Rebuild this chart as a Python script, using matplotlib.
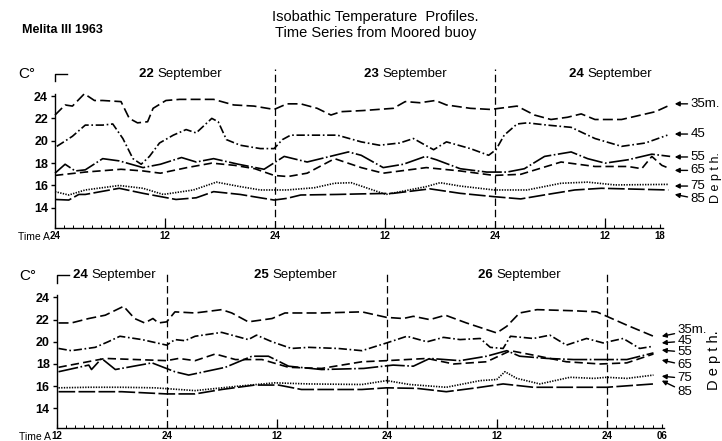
import matplotlib
matplotlib.use("Agg")
import matplotlib.pyplot as plt

plt.rcParams['font.family'] = ['Liberation Sans Narrow', 'Liberation Sans', 'DejaVu Sans']

# ---------------- data: top panel (hours from 00h 22 Sep) ----------------
top_h_35 = [0, 1.1, 1.9, 3.2, 4.3, 5.2, 7.2, 8.1, 9.0, 10.1, 10.7, 12.1, 13.6, 17.3, 19.5, 21.7, 23.9, 25.3, 26.8, 28.6, 30.1, 31.2, 33.6, 36.9, 38.2, 39.8, 41.5, 42.7, 45.3, 47.5, 50.4, 52.3, 54.1, 55.9, 57.4, 58.9, 61.8, 65.5, 67.1]
top_t_35 = [22.3, 23.2, 23.1, 24.2, 23.6, 23.6, 23.5, 22.0, 21.6, 21.7, 22.9, 23.6, 23.7, 23.7, 23.2, 23.1, 22.8, 23.3, 23.3, 22.9, 22.3, 22.6, 22.7, 22.9, 23.5, 23.4, 23.6, 23.2, 22.9, 22.8, 23.1, 22.3, 21.9, 22.1, 22.4, 21.9, 21.9, 22.6, 23.2]
top_h_45 = [0.2, 1.9, 3.3, 5.2, 6.3, 7.4, 8.5, 9.4, 10.3, 11.4, 12.9, 14.3, 15.4, 17.1, 17.8, 18.7, 20.2, 22.4, 23.9, 24.8, 25.7, 27.9, 30.8, 33.4, 35.4, 37.6, 39.1, 40.4, 41.3, 42.7, 45.3, 47.3, 48.1, 49.0, 50.4, 51.5, 53.7, 56.3, 58.9, 61.8, 64.4, 66.8]
top_t_45 = [19.5, 20.4, 21.4, 21.4, 21.5, 20.2, 18.4, 17.9, 18.6, 19.8, 20.5, 21.0, 20.7, 22.0, 21.7, 20.1, 19.6, 19.3, 19.3, 20.1, 20.5, 20.5, 20.5, 19.9, 19.6, 19.8, 20.2, 19.6, 19.2, 19.9, 19.3, 18.7, 19.2, 20.5, 21.5, 21.6, 21.4, 21.2, 20.2, 19.5, 19.8, 20.5]
top_h_55 = [0, 1.1, 2.2, 3.3, 5.2, 7.0, 9.6, 11.5, 13.8, 15.4, 17.3, 20.0, 22.8, 25.0, 27.5, 30.0, 32.0, 33.4, 35.8, 38.0, 40.4, 41.6, 44.2, 47.1, 49.3, 51.2, 53.4, 56.3, 58.1, 60.0, 62.5, 65.1, 67.1]
top_t_55 = [17.1, 17.9, 17.3, 17.4, 18.4, 18.2, 17.6, 17.9, 18.5, 18.1, 18.4, 17.9, 17.45, 18.6, 18.1, 18.6, 19.0, 18.7, 17.6, 17.9, 18.6, 18.3, 17.5, 17.2, 17.2, 17.5, 18.6, 19.0, 18.4, 18.0, 18.3, 18.8, 18.6]
top_h_65 = [0, 3.3, 7.2, 9.6, 11.5, 14.4, 17.1, 19.6, 21.8, 23.9, 25.4, 27.5, 30.5, 33.4, 35.8, 40.5, 44.2, 47.9, 50.8, 55.2, 58.9, 62.5, 64.0, 65.1, 66.2, 67.1]
top_t_65 = [16.9, 17.2, 17.45, 17.3, 17.1, 17.6, 18.0, 17.8, 17.5, 16.9, 16.8, 17.1, 18.4, 17.6, 17.1, 17.6, 17.3, 16.9, 17.0, 18.1, 17.7, 17.7, 17.5, 18.6, 17.8, 17.5]
top_h_75 = [0, 1.5, 3.3, 7.0, 9.6, 11.8, 15.1, 17.6, 20.2, 22.4, 25.3, 28.3, 30.5, 32.3, 33.4, 36.1, 40.5, 42.0, 44.2, 47.9, 51.5, 55.2, 58.1, 61.1, 66.9]
top_t_75 = [15.45, 15.15, 15.6, 16.0, 15.75, 15.2, 15.6, 16.3, 15.9, 15.6, 15.6, 15.8, 16.2, 16.25, 15.95, 15.2, 15.9, 16.25, 15.95, 15.6, 15.6, 16.2, 16.3, 16.05, 16.1]
top_h_85 = [0, 1.5, 2.6, 3.3, 7.0, 9.6, 13.2, 15.4, 17.3, 20.2, 22.4, 23.9, 25.3, 26.8, 30.8, 33.4, 36.9, 40.9, 44.2, 47.9, 50.8, 53.7, 56.7, 59.6, 66.9]
top_t_85 = [14.75, 14.7, 15.2, 15.2, 15.75, 15.3, 14.75, 14.9, 15.45, 15.2, 14.9, 14.7, 14.85, 15.15, 15.2, 15.25, 15.3, 15.7, 15.3, 15.0, 14.8, 15.2, 15.6, 15.75, 15.6]

# ---------------- data: bottom panel (hours from 12h 24 Sep) ----------------
bot_h_35 = [0.2, 1.6, 3.5, 5.3, 7.3, 8.5, 9.6, 10.5, 11.1, 12.0, 12.9, 15.1, 18.0, 19.1, 20.9, 23.5, 24.9, 28.9, 33.3, 36.0, 37.8, 38.9, 40.7, 42.4, 44.7, 48.0, 49.1, 50.5, 52.4, 56.4, 58.9, 60.0, 62.2, 65.1]
bot_t_35 = [21.7, 21.7, 22.1, 22.4, 23.2, 22.1, 21.7, 22.1, 21.7, 21.8, 22.7, 22.6, 22.9, 22.6, 21.8, 22.1, 22.6, 22.6, 22.7, 22.2, 22.1, 22.3, 22.0, 22.4, 21.7, 20.8, 21.4, 22.6, 22.9, 22.8, 22.7, 22.3, 21.5, 20.5]
bot_h_45 = [0.2, 1.6, 4.2, 5.6, 6.9, 9.3, 12.0, 12.9, 14.0, 15.1, 18.0, 20.9, 21.8, 23.5, 25.6, 27.5, 30.7, 33.3, 36.0, 38.2, 40.4, 42.2, 44.0, 46.2, 47.3, 48.7, 49.5, 52.0, 53.8, 55.6, 57.8, 59.6, 61.8, 63.6, 65.1]
bot_t_45 = [19.4, 19.2, 19.5, 20.0, 20.5, 20.2, 19.7, 20.2, 20.1, 20.5, 20.85, 20.2, 20.6, 20.0, 19.4, 19.5, 19.4, 19.2, 19.9, 20.5, 20.0, 20.4, 20.2, 20.3, 19.5, 19.4, 20.5, 20.3, 20.6, 19.7, 20.3, 19.9, 20.3, 19.4, 19.6]
bot_h_55 = [0.2, 3.5, 3.8, 4.9, 6.4, 10.4, 12.9, 14.4, 18.4, 21.3, 23.1, 25.3, 28.9, 33.5, 36.7, 38.9, 40.7, 44.0, 46.9, 49.1, 50.5, 53.5, 56.4, 60.4, 62.2, 65.1]
bot_t_55 = [17.3, 17.9, 17.5, 18.5, 17.5, 18.1, 17.3, 17.0, 17.7, 18.7, 18.7, 17.8, 17.5, 17.6, 17.9, 17.8, 18.5, 18.3, 18.7, 19.2, 18.7, 18.5, 18.4, 18.4, 18.4, 19.0]
bot_h_65 = [0.2, 5.3, 12.0, 13.3, 15.1, 17.3, 19.5, 22.4, 25.3, 28.9, 33.3, 36.0, 40.4, 43.3, 46.9, 49.5, 52.0, 55.6, 59.3, 62.2, 65.1]
bot_t_65 = [17.7, 18.5, 18.3, 18.5, 18.3, 18.9, 18.4, 18.4, 17.7, 17.6, 18.2, 18.3, 18.5, 18.0, 18.2, 19.2, 18.8, 18.2, 18.0, 18.1, 18.9]
bot_h_75 = [0.2, 3.5, 7.1, 10.7, 15.1, 19.8, 23.8, 27.5, 33.3, 36.0, 38.5, 42.5, 46.2, 48.0, 48.9, 50.2, 52.7, 56.0, 58.6, 60.0, 62.2, 65.1]
bot_t_75 = [15.85, 15.9, 15.9, 15.85, 15.6, 16.0, 16.3, 16.2, 16.15, 16.5, 16.15, 15.9, 16.5, 16.6, 17.3, 16.7, 16.2, 16.8, 16.7, 16.8, 16.7, 17.0]
bot_h_85 = [0.2, 3.5, 7.1, 12.0, 15.1, 18.0, 21.6, 24.2, 26.7, 30.7, 33.3, 36.0, 39.3, 42.5, 45.8, 48.7, 52.0, 56.4, 60.0, 65.1]
bot_t_85 = [15.5, 15.5, 15.5, 15.3, 15.3, 15.7, 16.1, 16.1, 15.7, 15.7, 15.7, 15.85, 15.8, 15.5, 15.85, 16.2, 15.9, 15.9, 15.9, 16.2]

depth_labels = ["35m.", "45", "55", "65", "75", "85"]
y_ticks = [14, 16, 18, 20, 22, 24]
top_xtick_pos = [0, 12, 24, 36, 48, 60, 66]
top_xtick_lab = ["24", "12", "24", "12", "24", "12", "18"]
bot_xtick_pos = [0, 12, 24, 36, 48, 60, 66]
bot_xtick_lab = ["12", "24", "12", "24", "12", "24", "06"]
top_days = ["22 September", "23 September", "24 September"]
bot_days = ["24 September", "25 September", "26 September"]

styles = [
    dict(dashes=(6, 2.5)),
    dict(dashes=(5, 1.6, 1, 1.6)),
    dict(dashes=(12, 1.5, 1, 1.5)),
    dict(dashes=(5, 2.5)),
    dict(dashes=(0.8, 0.8)),
    dict(dashes=(10, 2)),
]

SANS = ['Liberation Sans', 'DejaVu Sans']
fig = plt.figure(figsize=(7.22, 4.41), dpi=100)
YMIN, YMAX = 12.2, 26.0

def setup_axes(ax, xpos, xlab, midnight, noon, days, day_x):
    ax.set_xlim(0, 68)
    ax.set_ylim(YMIN, YMAX)
    for s in ["top", "right"]:
        ax.spines[s].set_visible(False)
    ax.spines["left"].set_bounds(YMIN, 24.2)
    ax.spines["bottom"].set_bounds(0, 66.3)
    for s in ["left", "bottom"]:
        ax.spines[s].set_linewidth(1.0)
    ax.set_yticks(y_ticks)
    ax.set_yticklabels([str(v) for v in y_ticks], fontsize=9, fontweight="bold", family=SANS)
    ax.tick_params(axis="y", direction="out", length=3, width=1, pad=2)
    ax.set_xticks(xpos)
    ax.set_xticklabels(xlab, fontsize=7, fontweight="bold", family=SANS)
    ax.set_xticks(list(range(0, 67)), minor=True)
    ax.tick_params(axis="x", which="major", direction="in", length=3, width=0.8, pad=2)
    ax.tick_params(axis="x", which="minor", direction="in", length=2.5, width=0.7)
    ax.vlines(noon, YMIN, YMIN + 0.85, color="black", lw=0.9)
    for m in midnight:
        ax.plot([m, m], [YMIN, 26.4], color="black", lw=0.9, dashes=(6, 3), clip_on=False)
    # bracket at the top of the temperature axis
    ax.plot([0, 0, 1.3], [25.3, 26.0, 26.0], color="black", lw=1.0, clip_on=False)
    ax.text(-2.2, 25.95, "C°", fontsize=11, ha="right", va="center", family=SANS)
    for d, x in zip(days, day_x):
        num, word = d.split(" ")
        ax.text(x, 26.0, num + " ", fontsize=9.5, fontweight="bold", ha="right",
                va="center", family=SANS)
        ax.text(x, 26.0, word, fontsize=9.5, ha="left", va="center", family=SANS)
    ax.annotate("Time A", xy=(0, YMIN), xycoords="data", xytext=(-4, -6.5),
                textcoords="offset points", fontsize=7.5, ha="right", va="center",
                family=SANS, annotation_clip=False)

# ---------------- top panel ----------------
ax1 = fig.add_axes([0.0762, 0.483, 0.8634, 0.350])
top_h = [top_h_35, top_h_45, top_h_55, top_h_65, top_h_75, top_h_85]
top_t = [top_t_35, top_t_45, top_t_55, top_t_65, top_t_75, top_t_85]
for h, t, st in zip(top_h, top_t, styles):
    ax1.plot(h, t, color="black", lw=1.2, clip_on=False, **st)
setup_axes(ax1, top_xtick_pos, top_xtick_lab, [24, 48], [12, 36, 60],
           top_days, [11.2, 35.7, 58.1])

top_lab_y = [23.3, 20.6, 18.55, 17.35, 15.95, 14.8]
top_head_y = [23.3, 20.6, 18.55, 17.35, 15.95, 15.2]
for lab, ly, hy in zip(depth_labels, top_lab_y, top_head_y):
    ax1.annotate(lab, xy=(67.6, hy), xytext=(69.3, ly), fontsize=9.5, va="center",
                 ha="left", annotation_clip=False,
                 arrowprops=dict(arrowstyle="-|>", color="black", lw=1.0,
                                 mutation_scale=7, shrinkA=0, shrinkB=0))
ax1.text(71.4, 16.7, "D e p t h.", rotation=90, fontsize=9, ha="left", va="center",
         clip_on=False)

# ---------------- bottom panel ----------------
ax2 = fig.add_axes([0.0785, 0.0288, 0.8634, 0.347])
bot_h = [bot_h_35, bot_h_45, bot_h_55, bot_h_65, bot_h_75, bot_h_85]
bot_t = [bot_t_35, bot_t_45, bot_t_55, bot_t_65, bot_t_75, bot_t_85]
for h, t, st in zip(bot_h, bot_t, styles):
    ax2.plot(h, t, color="black", lw=1.2, clip_on=False, **st)
setup_axes(ax2, bot_xtick_pos, bot_xtick_lab, [12, 36, 60], [24, 48],
           bot_days, [3.8, 23.5, 48.0])

bot_lab_y = [21.05, 20.06, 19.07, 17.9, 16.7, 15.5]
bot_head_y = [20.5, 19.9, 19.25, 18.35, 16.9, 16.5]
for lab, ly, hy in zip(depth_labels, bot_lab_y, bot_head_y):
    ax2.annotate(lab, xy=(66.0, hy), xytext=(67.7, ly), fontsize=9.5, va="center",
                 ha="left", annotation_clip=False,
                 arrowprops=dict(arrowstyle="-|>", color="black", lw=1.0,
                                 mutation_scale=7, shrinkA=0, shrinkB=0))
ax2.text(70.9, 18.3, "D e p t h.", rotation=90, fontsize=10.5, ha="left", va="center",
         clip_on=False)

# ---------------- titles ----------------
fig.text(0.52, 0.962, "Isobathic Temperature  Profiles.", fontsize=10.5, ha="center", va="center",
         family=SANS)
fig.text(0.52, 0.925, "Time Series from Moored buoy", fontsize=10.5, ha="center", va="center",
         family=SANS)
fig.text(0.03, 0.932, "Melita III 1963", fontsize=9, fontweight="bold", ha="left", va="center",
         family=SANS)

fig.savefig("out.png", dpi=100)
